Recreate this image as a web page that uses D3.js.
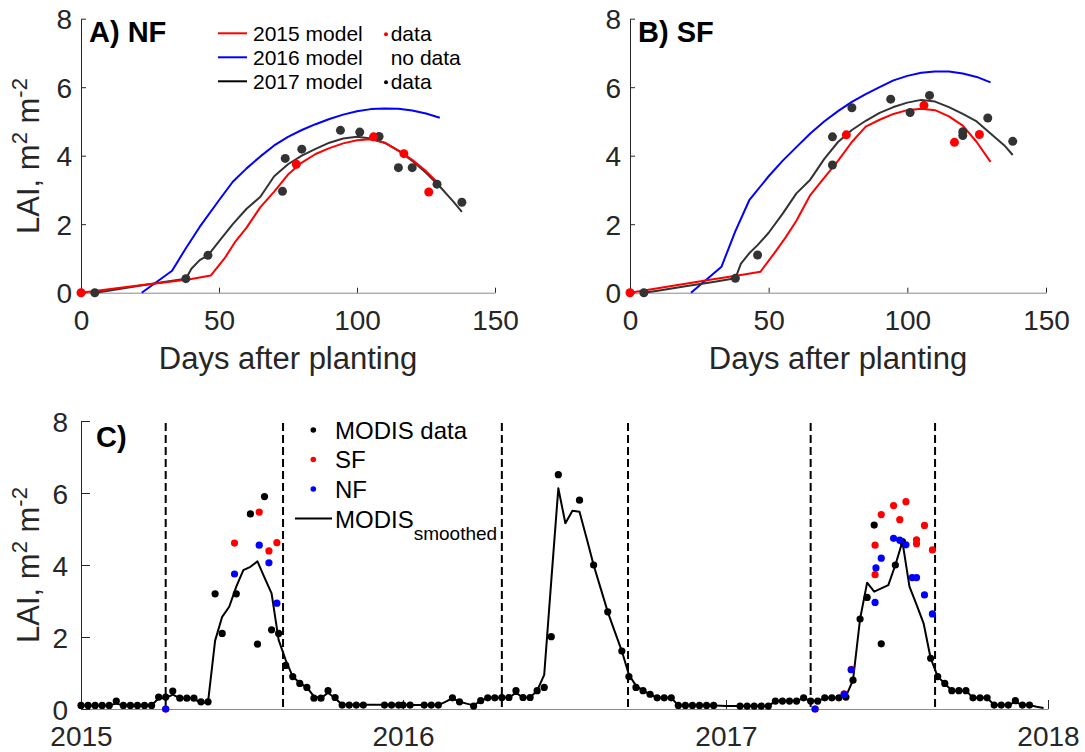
<!DOCTYPE html>
<html>
<head>
<meta charset="utf-8">
<script src="https://cdn.jsdelivr.net/npm/d3@7"></script>
<style>
body { margin: 0; background: #fff; }
text { font-family: "Liberation Sans", Arial, sans-serif; }
</style>
</head>
<body>
<svg id="fig" width="1085" height="752"></svg>
<script>

// ---- field data, days after planting ----
var nfDays2015 = [0, 78, 106, 117, 126];
var nfLai2015  = [0, 3.75, 4.55, 4.06, 2.94];
var sfDays2015 = [0, 78, 106, 117, 126];
var sfLai2015  = [0, 4.61, 5.47, 4.39, 4.62];
var nfDays2017 = [5, 38, 46, 73, 74, 80, 94, 101, 108, 115, 120, 129, 138];
var nfLai2017  = [0, 0.41, 1.09, 2.96, 3.92, 4.19, 4.74, 4.69, 4.56, 3.65, 3.65, 3.17, 2.64];
var sfDays2017 = [5, 38, 46, 73, 73, 80, 94, 101, 108, 120, 120, 129, 138];
var sfLai2017  = [0, 0.42, 1.1, 4.55, 3.73, 5.4, 5.65, 5.26, 5.76, 4.7, 4.59, 5.1, 4.42];

// ---- model runs ----
var modelDays2015 = [0, 10, 20, 30, 40, 47, 52, 56, 60, 65, 70, 75, 80, 85, 90, 95, 100, 105, 110, 115, 120, 125, 130];
var nfModel2015 = [0, 0.1, 0.2, 0.3, 0.4, 0.5, 1.0, 1.5, 1.9, 2.5, 2.95, 3.45, 3.8, 4.05, 4.22, 4.36, 4.45, 4.48, 4.38, 4.15, 3.88, 3.55, 3.15];
var sfModel2015 = [0, 0.13, 0.26, 0.39, 0.52, 0.61, 1.15, 1.6, 2.1, 2.85, 3.35, 3.85, 4.4, 4.85, 5.05, 5.22, 5.33, 5.37, 5.33, 5.15, 4.88, 4.4, 3.82];
var modelDays2016 = [22, 33, 38, 43, 50, 55, 60, 65, 70, 75, 80, 85, 90, 95, 100, 105, 110, 115, 120, 125, 130];
var nfModel2016 = [0, 0.64, 1.3, 1.92, 2.7, 3.24, 3.63, 3.98, 4.3, 4.55, 4.75, 4.92, 5.07, 5.2, 5.3, 5.36, 5.38, 5.37, 5.32, 5.23, 5.11];
var sfModel2016 = [0, 0.76, 1.8, 2.7, 3.4, 3.85, 4.25, 4.65, 5.0, 5.3, 5.57, 5.8, 6.0, 6.2, 6.33, 6.42, 6.46, 6.46, 6.4, 6.3, 6.14];
var modelDays2017 = [5, 10, 20, 30, 38, 40, 43, 46, 50, 55, 60, 65, 70, 75, 80, 85, 90, 95, 100, 105, 110, 115, 120, 125, 130, 135, 138];
var nfModel2017 = [0, 0.06, 0.19, 0.31, 0.41, 0.7, 0.95, 1.09, 1.5, 2.0, 2.45, 2.8, 3.4, 3.75, 4.0, 4.2, 4.38, 4.5, 4.55, 4.5, 4.38, 4.15, 3.85, 3.5, 3.1, 2.65, 2.36];
var sfModel2017 = [0, 0.06, 0.19, 0.31, 0.42, 0.85, 1.15, 1.39, 1.75, 2.3, 2.9, 3.3, 3.9, 4.4, 4.75, 5.02, 5.25, 5.42, 5.55, 5.63, 5.58, 5.42, 5.22, 5.0, 4.65, 4.3, 4.02];

// ---- MODIS 8-day composites, 46 per year (null = missing) ----
var modisYears = [2015, 2016, 2017];
var modis2015 = [0.1, 0.1, 0.1, 0.1, 0.1, 0.22, 0.1, 0.1, 0.1, 0.1, 0.1, 0.33, 0.33, 0.5, 0.3, 0.3, 0.3, 0.2, 0.2, 3.2,
  2.1, null, 3.2, null, 5.42, 1.8, 5.9, 2.2, 2.1, 1.21, 0.9, 0.71, 0.6, 0.3, 0.3, 0.51, 0.32, 0.11, 0.11, 0.11,
  0.11, null, null, 0.11, 0.11, 0.11];
var modis2016 = [0.11, 0.11, null, 0.11, 0.11, 0.11, null, 0.31, 0.2, null, 0.08, 0.23, 0.31, 0.31, 0.32, 0.32, 0.51, 0.32, 0.32, 0.51,
  0.6, 2.01, 6.51, null, null, 5.8, null, 4.0, null, 2.7, null, 1.61, 0.9, 0.6, 0.51, 0.41, 0.31, 0.31, 0.31, 0.1,
  0.1, 0.1, 0.1, 0.1, 0.1, null];
var modis2017 = [null, null, 0.08, 0.08, 0.08, 0.08, 0.08, 0.22, 0.22, 0.22, 0.22, 0.31, 0.22, 0.22, 0.31, 0.31, 0.31, 0.33, 0.8, 2.5,
  3.1, 5.11, 1.81, null, 4.0, 4.65, null, null, null, 1.41, 0.9, 0.71, 0.51, 0.51, 0.51, 0.31, 0.31, 0.31, 0.11, 0.11,
  0.11, 0.23, 0.11, 0.11, null, null];
var smooth2015 = [0.1, 0.1, 0.1, 0.1, 0.1, 0.15, 0.1, 0.1, 0.1, 0.1, 0.1, 0.3, 0.3, 0.4, 0.3, 0.3, 0.3, 0.15, 0.2, 1.9,
  2.56, 2.84, 3.4, 3.86, 3.95, 4.1, 3.65, 3.21, 1.92, 1.36, 0.9, 0.72, 0.6, 0.35, 0.3, 0.45, 0.3, 0.12, 0.12, 0.12,
  0.12, 0.12, 0.12, 0.12, 0.12, 0.12];
var smooth2016 = [0.11, 0.11, 0.11, 0.11, 0.11, 0.11, 0.2, 0.3, 0.2, 0.15, 0.1, 0.23, 0.31, 0.31, 0.32, 0.32, 0.45, 0.32, 0.32, 0.51,
  0.95, 3.56, 6.13, 5.16, 5.51, 5.48, 4.75, 4.0, 3.35, 2.7, 2.15, 1.61, 0.95, 0.65, 0.51, 0.41, 0.31, 0.31, 0.31, 0.1,
  0.1, 0.1, 0.1, 0.1, 0.1, 0.09];
var smooth2017 = [0.08, 0.08, 0.08, 0.08, 0.08, 0.08, 0.08, 0.22, 0.22, 0.22, 0.22, 0.31, 0.22, 0.22, 0.31, 0.31, 0.31, 0.35, 0.8, 2.5,
  3.51, 3.26, 3.35, 3.44, 4.0, 4.65, 3.4, 2.9, 2.38, 1.41, 0.9, 0.71, 0.51, 0.51, 0.51, 0.31, 0.31, 0.31, 0.11, 0.11,
  0.11, 0.2, 0.11, 0.11, 0.06, 0.03];

var plantDates   = ["2015-04-07", "2016-04-22", "2017-04-07"];
var harvestDates = ["2015-08-18", "2016-09-12", "2017-08-26"];

var laiTicks = [0, 2, 4, 6, 8];
var dayTicks = [0, 50, 100, 150];
var yearTicks = ["2015", "2016", "2017", "2018"];

var RED = "#ff0000", BLUE = "#0000ff", DARK = "#333333", AXIS = "#262626";

var svg = d3.select("#fig");
var parse = d3.timeParse("%Y-%m-%d");

function zip(xs, ys) { return xs.map(function(x, i) { return [x, ys[i]]; }); }

function laiLabel(g, x, y) {
	var t = g.append("text")
		.attr("transform", "translate(" + x + "," + y + ") rotate(-90)")
		.attr("text-anchor", "middle")
		.attr("fill", AXIS)
		.style("font-size", "31px");
	t.append("tspan").text("LAI, m");
	t.append("tspan").attr("dy", -12).style("font-size", "22px").text("2");
	t.append("tspan").attr("dy", 12).text(" m");
	t.append("tspan").attr("dy", -12).style("font-size", "22px").text("-2");
}

function styleAxis(a, color) {
	a.selectAll("path.domain").attr("stroke", color);
	a.selectAll(".tick line").attr("stroke", AXIS);
	a.selectAll(".tick text").attr("fill", AXIS).style("font-size", "28px")
		.style("font-family", "'Liberation Sans', Arial, sans-serif");
}

// ---------- panels A and B ----------
function dapPanel(left, right, title, m15, m16, m17, d15, d17, withLegend, withYLabel) {
	var x = d3.scaleLinear().domain([0, 150]).range([left, right]);
	var y = d3.scaleLinear().domain([0, 8]).range([292.7, 18.7]);
	var g = svg.append("g");

	var ax = g.append("g").attr("transform", "translate(0,292.7)")
		.call(d3.axisBottom(x).tickValues(dayTicks).tickSizeInner(-5).tickSizeOuter(0).tickPadding(17));
	styleAxis(ax, "#8a8a8a");
	var ay = g.append("g").attr("transform", "translate(" + left + ",0)")
		.call(d3.axisLeft(y).tickValues(laiTicks).tickSizeInner(-5).tickSizeOuter(0).tickPadding(9));
	styleAxis(ay, AXIS);
	ay.selectAll(".tick text").attr("dy", "0.36em");

	g.append("text").attr("x", (left + right) / 2).attr("y", 369)
		.attr("text-anchor", "middle").attr("fill", AXIS).style("font-size", "31px")
		.text("Days after planting");
	if (withYLabel) laiLabel(g, 39, 156);

	var line = d3.line().x(function(d) { return x(d[0]); }).y(function(d) { return y(d[1]); });
	[[m16, BLUE], [m17, DARK], [m15, RED]].forEach(function(s) {
		g.append("path").datum(s[0]).attr("d", line).attr("fill", "none")
			.attr("stroke", s[1]).attr("stroke-width", 2).attr("stroke-linejoin", "round");
	});
	[[d17, DARK], [d15, RED]].forEach(function(s) {
		g.selectAll(null).data(s[0]).enter().append("circle")
			.attr("cx", function(d) { return x(d[0]); })
			.attr("cy", function(d) { return y(d[1]); })
			.attr("r", 4.5).attr("fill", s[1]);
	});

	g.append("text").attr("x", left + 8).attr("y", 42)
		.style("font-size", "29px").style("font-weight", "bold").attr("fill", "#000").text(title);

	if (withLegend) {
		var rows = [["2015 model", RED, RED, "data"], ["2016 model", BLUE, null, "no data"], ["2017 model", "#000", "#000", "data"]];
		rows.forEach(function(r, i) {
			var cy = 33.3 + i * 24;
			g.append("line").attr("x1", 218).attr("x2", 247).attr("y1", cy).attr("y2", cy)
				.attr("stroke", r[1]).attr("stroke-width", 2);
			g.append("text").attr("x", 253).attr("y", cy + 7.5).style("font-size", "21px").text(r[0]);
			if (r[2]) g.append("circle").attr("cx", 386).attr("cy", cy + 1).attr("r", 2).attr("fill", r[2]);
			g.append("text").attr("x", 390.7).attr("y", cy + 7.5).style("font-size", "21px").text(r[3]);
		});
	}
}

dapPanel(81, 495, "A) NF",
	zip(modelDays2015, nfModel2015), zip(modelDays2016, nfModel2016), zip(modelDays2017, nfModel2017),
	zip(nfDays2015, nfLai2015), zip(nfDays2017, nfLai2017), true, true);
dapPanel(630, 1046, "B) SF",
	zip(modelDays2015, sfModel2015), zip(modelDays2016, sfModel2016), zip(modelDays2017, sfModel2017),
	zip(sfDays2015, sfLai2015), zip(sfDays2017, sfLai2017), false, false);

// ---------- panel C ----------
var xc = d3.scaleTime().domain([new Date(2015, 0, 1), new Date(2018, 0, 1)]).range([81, 1048]);
var yc = d3.scaleLinear().domain([0, 8]).range([709, 421]);
var gc = svg.append("g");

var axc = gc.append("g").attr("transform", "translate(0,709)")
	.call(d3.axisBottom(xc).tickValues(yearTicks.map(function(s) { return new Date(+s, 0, 1); }))
		.tickFormat(d3.timeFormat("%Y")).tickSizeInner(-9).tickSizeOuter(0).tickPadding(17));
styleAxis(axc, "#8a8a8a");
var ayc = gc.append("g").attr("transform", "translate(81,0)")
	.call(d3.axisLeft(yc).tickValues(laiTicks).tickSizeInner(-9).tickSizeOuter(0).tickPadding(13));
styleAxis(ayc, AXIS);
ayc.selectAll(".tick text").attr("dy", "0.36em");
laiLabel(gc, 39, 565);

// planting / harvest
plantDates.concat(harvestDates).forEach(function(s) {
	var px = xc(parse(s));
	gc.append("line").attr("x1", px).attr("x2", px).attr("y1", 423).attr("y2", 709)
		.attr("stroke", "#000").attr("stroke-width", 2).attr("stroke-dasharray", "8,4");
});

var modisPts = [], smoothPts = [];
[modis2015, modis2016, modis2017].forEach(function(arr, yi) {
	arr.forEach(function(v, k) {
		var dt = d3.timeDay.offset(new Date(modisYears[yi], 0, 1), 8 * k);
		if (v !== null) modisPts.push([dt, v]);
	});
});
[smooth2015, smooth2016, smooth2017].forEach(function(arr, yi) {
	arr.forEach(function(v, k) {
		smoothPts.push([d3.timeDay.offset(new Date(modisYears[yi], 0, 1), 8 * k), v]);
	});
});

gc.append("path").datum(smoothPts)
	.attr("d", d3.line().x(function(d) { return xc(d[0]); }).y(function(d) { return yc(d[1]); }))
	.attr("fill", "none").attr("stroke", "#000").attr("stroke-width", 2).attr("stroke-linejoin", "round");

gc.selectAll(null).data(modisPts).enter().append("circle")
	.attr("cx", function(d) { return xc(d[0]); }).attr("cy", function(d) { return yc(d[1]); })
	.attr("r", 3.6).attr("fill", "#000");

function fieldPts(plant, days, lai) {
	var p0 = parse(plant);
	return days.map(function(d, i) { return [d3.timeDay.offset(p0, d), lai[i]]; });
}
var sfC = fieldPts(plantDates[0], sfDays2015, sfLai2015).concat(fieldPts(plantDates[2], sfDays2017, sfLai2017));
var nfC = fieldPts(plantDates[0], nfDays2015, nfLai2015).concat(fieldPts(plantDates[2], nfDays2017, nfLai2017));
[[sfC, RED], [nfC, BLUE]].forEach(function(s) {
	gc.selectAll(null).data(s[0]).enter().append("circle")
		.attr("cx", function(d) { return xc(d[0]); }).attr("cy", function(d) { return yc(d[1]); })
		.attr("r", 3.6).attr("fill", s[1]);
});

gc.append("text").attr("x", 96).attr("y", 446.7)
	.style("font-size", "29px").style("font-weight", "bold").text("C)");

// legend C
var legC = [["MODIS data", "#000"], ["SF", RED], ["NF", BLUE]];
legC.forEach(function(r, i) {
	var cy = 430 + i * 29.5;
	gc.append("circle").attr("cx", 313.3).attr("cy", cy).attr("r", 2.8).attr("fill", r[1]);
	gc.append("text").attr("x", 335).attr("y", cy + 8.5).style("font-size", "24px").text(r[0]);
});
gc.append("line").attr("x1", 295).attr("x2", 332).attr("y1", 518.5).attr("y2", 518.5)
	.attr("stroke", "#000").attr("stroke-width", 2);
var ms = gc.append("text").attr("x", 335).attr("y", 527.5).style("font-size", "24px");
ms.append("tspan").text("MODIS");
ms.append("tspan").attr("dy", 12).style("font-size", "19px").text("smoothed");

</script>
</body>
</html>
